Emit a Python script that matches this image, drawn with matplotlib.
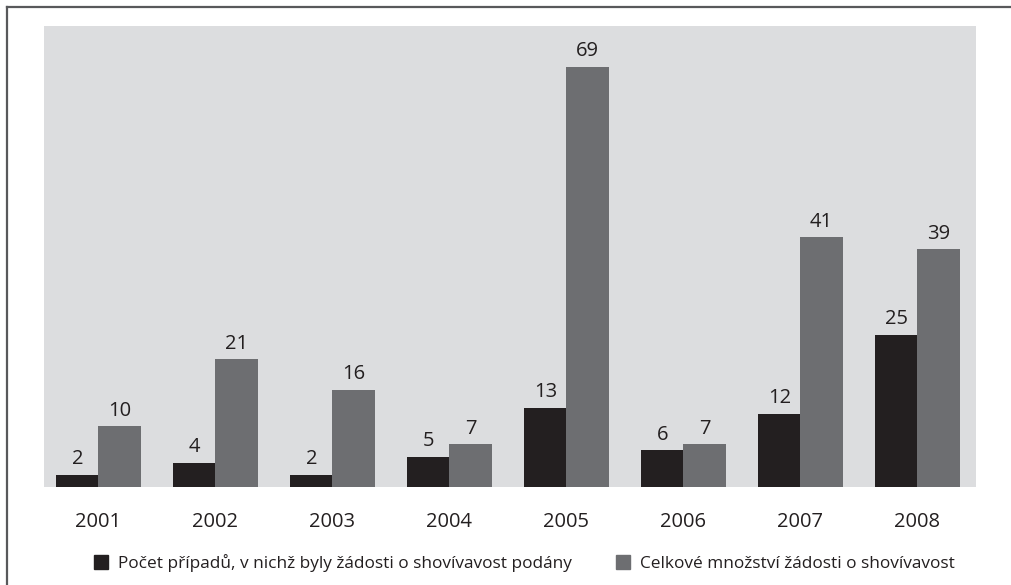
import matplotlib
matplotlib.use("Agg")
import matplotlib.pyplot as plt
from matplotlib.lines import Line2D
from matplotlib.patches import Patch
import numpy as np

plt.rcParams['font.family'] = ['Open Sans', 'DejaVu Sans']

years = ['2001', '2002', '2003', '2004', '2005', '2006', '2007', '2008']
pripady = [2, 4, 2, 5, 13, 6, 12, 25]
zadosti = [10, 21, 16, 7, 69, 7, 41, 39]
labels = ['Počet případů, v nichž byly žádosti o shovívavost podány',
          'Celkové množství žádosti o shovívavost']

c_dark = '#231f20'
c_grey = '#6d6e71'
c_bg = '#dcdddf'

fig = plt.figure(figsize=(10.11, 5.85), dpi=100)
ax = fig.add_axes([44/1011, 98/585, 932/1011, 461/585])
ax.set_facecolor(c_bg)

x = np.arange(len(years))
w = 0.36
b1 = ax.bar(x - w/2, pripady, w, color=c_dark)
b2 = ax.bar(x + w/2, zadosti, w, color=c_grey)
for bars, vals in ((b1, pripady), (b2, zadosti)):
    for r, v in zip(bars, vals):
        ax.annotate(str(v), (r.get_x() + r.get_width()/2, v), xytext=(0, 4),
                    textcoords='offset points', ha='center', va='bottom',
                    fontsize=14.5, color='#231f20')

ax.set_xlim(-0.465, 7.5)
ax.set_ylim(0, 75.7)
ax.set_xticks(x)
ax.set_xticklabels(years, fontsize=14.5, color='#231f20')
ax.tick_params(axis='x', length=0, pad=18)
ax.set_yticks([])
for s in ax.spines.values():
    s.set_visible(False)

handles = [Patch(color=c_dark), Patch(color=c_grey)]
fig.legend(handles, labels, loc='center', bbox_to_anchor=(0.519, 22/585), ncol=2,
           frameon=False, fontsize=12.4, handlelength=0.8, handleheight=0.8,
           handletextpad=0.6, columnspacing=2.55, labelcolor='#231f20')

# frame lines (left and top)
fig.add_artist(Line2D([7/1011, 7/1011], [0, 578/585], color='#58595b', lw=1.6))
fig.add_artist(Line2D([7/1011, 1], [578/585, 578/585], color='#58595b', lw=1.6))

fig.savefig('out.png', dpi=100)
